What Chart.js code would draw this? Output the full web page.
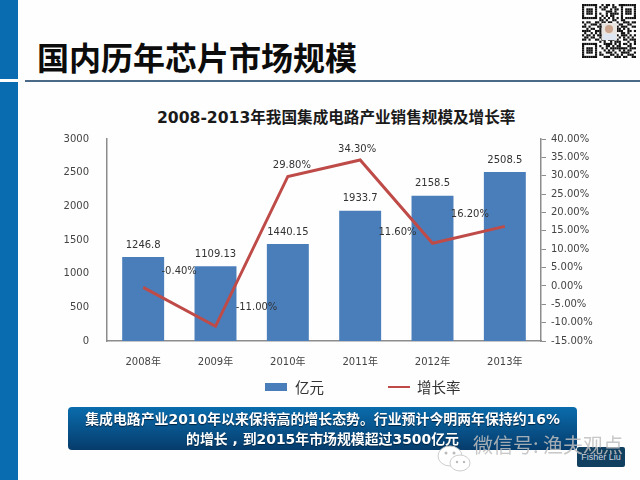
<!DOCTYPE html>
<html>
<head>
<meta charset="utf-8">
<script src="https://cdn.jsdelivr.net/npm/chart.js@4"></script>
<style>
  html, body { margin: 0; padding: 0; background: #fefefe; }
  #page { position: relative; width: 640px; height: 480px; overflow: hidden; font-family: "Noto Sans CJK SC", sans-serif; }
  #chart { position: absolute; left: 0; top: 0; }
  .abs { position: absolute; white-space: nowrap; }
  #side1 { left: 0; top: 0; width: 18px; height: 79px; background: #0a6cb0; }
  #side2 { left: 0; top: 82px; width: 18px; height: 398px; background: #0a6cb0; }
  #rule { left: 25px; top: 80px; width: 615px; height: 2px; background: #4a6a88; }
  #head { left: 37px; top: 34px; font-size: 32px; line-height: 44px; font-weight: 700; color: #0c0c0c; }
  #title { left: 157px; top: 107px; font-family: "DejaVu Sans", "Noto Sans CJK SC"; font-size: 15.6px; line-height: 22px; font-weight: 700; color: #1a1a1a; }
  #banner { left: 68px; top: 407px; width: 509px; height: 43px; border-radius: 4px; background: linear-gradient(#0a6cac, #063c6c); color: #fff; text-align: center; font-family: "DejaVu Sans", "Noto Sans CJK SC"; font-size: 13.9px; line-height: 20px; font-weight: 700; padding-top: 2px; box-sizing: border-box; text-shadow: 0 1px 1px #03233f; }
  #badge { left: 577px; top: 447px; width: 48px; height: 20px; border-radius: 2px; background: #113f60; color: #cfd8e0; font: 9px/20px "Liberation Sans"; text-align: center; }
  #mark { left: 473px; top: 431px; font-size: 20px; line-height: 28px; color: rgba(190,190,190,0.85); }
  #legend span { position: absolute; white-space: nowrap; }
  #legend { font-size: 14.5px; line-height: 18px; color: #333; }
</style>
</head>
<body>
<div id="page">
  <div class="abs" id="side1"></div>
  <div class="abs" id="side2"></div>
  <div class="abs" id="rule"></div>
  <div class="abs" id="head">国内历年芯片市场规模</div>
  <svg class="abs" id="qr" style="left:582px;top:4px" width="54" height="54"></svg>
  <div class="abs" id="title">2008-2013年我国集成电路产业销售规模及增长率</div>
  <canvas id="chart" width="640" height="480"></canvas>
  <div class="abs" id="legend" style="left:0;top:378px"></div>
  <div class="abs" id="banner">集成电路产业2010年以来保持高的增长态势。行业预计今明两年保持约16%<br>的增长 , 到2015年市场规模超过3500亿元</div>
  <svg class="abs" style="left:436px;top:444px" width="36" height="30">
    <ellipse cx="14" cy="12" rx="12" ry="10" fill="#fff" stroke="#ccc"/>
    <ellipse cx="24" cy="19" rx="10" ry="8" fill="#fff" stroke="#ccc"/>
    <circle cx="10" cy="9" r="1.5" fill="#bbb"/><circle cx="18" cy="9" r="1.5" fill="#bbb"/>
    <circle cx="21" cy="18" r="1.2" fill="#bbb"/><circle cx="28" cy="18" r="1.2" fill="#bbb"/>
  </svg>
  <div class="abs" id="badge">Fisher Liu</div>
  <div class="abs" id="mark">微信号: 渔夫观点</div>
</div>
<script>
const categories = ['2008年', '2009年', '2010年', '2011年', '2012年', '2013年'];
const salesName = '亿元';
const growthName = '增长率';
const salesValues = [1246.8, 1109.13, 1440.15, 1933.7, 2158.5, 2508.5];
const growthValues = [-0.4, -11, 29.8, 34.3, 11.6, 16.2];
const salesLabels = ['1246.8', '1109.13', '1440.15', '1933.7', '2158.5', '2508.5'];

const barColor = '#4a7ebb';
const lineColor = '#be4b48';
const axisColor = '#8c8c8c';
const tickColor = '#444';
const tickFont = { family: '"DejaVu Sans", "Noto Sans CJK SC"', size: 10 };

// where each growth label sits relative to its point, as in the picture
const growthLabelShift = [[36, -16], [41, -19], [4, -11], [-3, -11], [-35, -11], [-35, -12]];

const valueLabels = {
  id: 'valueLabels',
  afterDatasetsDraw(chart) {
    const ctx = chart.ctx;
    ctx.save();
    ctx.font = '10px "DejaVu Sans"';
    ctx.fillStyle = '#333';
    ctx.textAlign = 'center';
    ctx.textBaseline = 'middle';
    chart.getDatasetMeta(0).data.forEach((bar, i) => {
      ctx.fillText(salesLabels[i], bar.x, bar.y - 12);
    });
    chart.getDatasetMeta(1).data.forEach((pt, i) => {
      const shift = growthLabelShift[i];
      ctx.fillText(growthValues[i].toFixed(2) + '%', pt.x + shift[0], pt.y + shift[1]);
    });
    ctx.restore();
  }
};

new Chart(document.getElementById('chart').getContext('2d'), {
  data: {
    labels: categories,
    datasets: [
      { type: 'bar', label: salesName, data: salesValues, backgroundColor: barColor, yAxisID: 'y', order: 2, barPercentage: 0.58, categoryPercentage: 1 },
      { type: 'line', label: growthName, data: growthValues, borderColor: lineColor, borderWidth: 3, pointRadius: 0, tension: 0, yAxisID: 'y1', order: 1 }
    ]
  },
  options: {
    responsive: false,
    animation: false,
    layout: { padding: { top: 139, bottom: 109 } },
    plugins: { legend: { display: false }, title: { display: false }, tooltip: { enabled: false } },
    scales: {
      x: {
        afterFit(s) { s.height = 30; },
        grid: { display: false },
        border: { color: axisColor, width: 1.5 },
        ticks: { color: tickColor, font: tickFont, padding: 7, maxRotation: 0 }
      },
      y: {
        min: 0, max: 3000,
        afterFit(s) { s.width = 107; },
        grid: { display: false },
        border: { color: axisColor, width: 1.5 },
        ticks: { stepSize: 500, color: tickColor, font: tickFont, padding: 10, callback: v => String(v) }
      },
      y1: {
        position: 'right',
        min: -15, max: 40,
        afterFit(s) { s.width = 99; },
        grid: { drawOnChartArea: false, color: axisColor, tickLength: 5 },
        border: { color: axisColor, width: 1.5 },
        ticks: { stepSize: 5, color: tickColor, font: tickFont, padding: 5, callback: v => v.toFixed(2) + '%' }
      }
    }
  },
  plugins: [valueLabels]
});

// legend, outside the canvas so it can sit at its own spacing
const legendEl = document.getElementById('legend');
legendEl.innerHTML =
  '<span style="left:265px;top:5px;width:22px;height:8px;background:' + barColor + '"></span>' +
  '<span style="left:295px;top:0">' + salesName + '</span>' +
  '<span style="left:388px;top:8px;width:22px;height:2px;background:' + lineColor + '"></span>' +
  '<span style="left:417px;top:0">' + growthName + '</span>';

// qr code decoration, rows of a fixed pattern
const qrRows = ['fe5a7f8','82b3208','ba65ae8','ba1d2e8','ba97ae8','8256208','feaaaf8','00d3300','b36c9d8','4e9a660','d1f3b98','2c80d40','f390e68','4a81340','b5f0ba8','6c9a550','d36e9b8','00a5c48','fe3d5a8','829ac60','ba57fb8','ba2a560','ba9d3c8','82c6a70','fe39d98'];
let qr = '';
qrRows.forEach((row, r) => {
  const bits = parseInt(row, 16);
  for (let c = 0; c < 25; c++) {
    if ((bits >> (27 - c)) & 1) qr += '<rect x="' + c * 2.16 + '" y="' + r * 2.16 + '" width="2.16" height="2.16" fill="#111"/>';
  }
});
qr += '<rect x="20" y="19" width="15" height="17" fill="#e8e4e0"/><circle cx="27" cy="25" r="4" fill="#caa48c"/><rect x="21" y="30" width="13" height="6" fill="#dfe7f2"/>';
document.getElementById('qr').innerHTML = qr;
</script>
</body>
</html>
